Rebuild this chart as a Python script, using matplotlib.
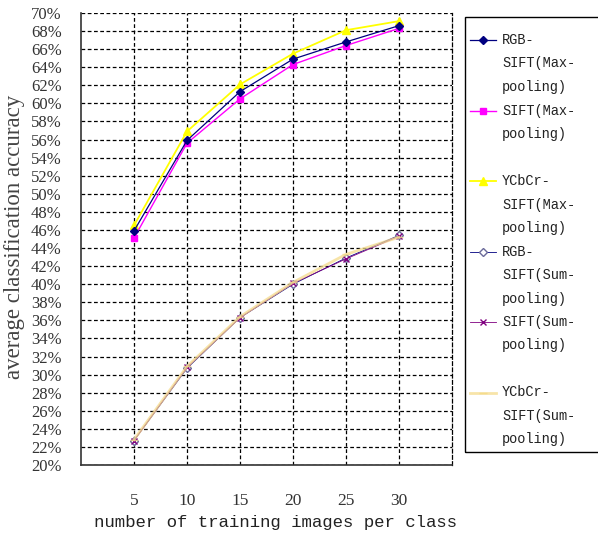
import matplotlib
matplotlib.use("Agg")
import matplotlib.pyplot as plt
from matplotlib.lines import Line2D
from matplotlib.patches import Rectangle

categories = ["5", "10", "15", "20", "25", "30"]
rgb_max = [45.9, 55.9, 61.3, 64.9, 66.8, 68.6]
sift_max = [45.1, 55.6, 60.5, 64.3, 66.4, 68.3]
ycbcr_max = [46.5, 56.9, 62.1, 65.5, 68.1, 69.1]
rgb_sum = [22.7, 30.7, 36.3, 40.0, 42.9, 45.4]
sift_sum = [22.7, 30.8, 36.3, 40.1, 42.8, 45.3]
ycbcr_sum = [22.8, 30.9, 36.4, 40.2, 43.3, 45.2]
yticks = list(range(20, 71, 2))
ytick_labels = [f"{v}%" for v in yticks]
labels = [
    "RGB-\nSIFT(Max-\npooling)",
    "SIFT(Max-\npooling)\n",
    "YCbCr-\nSIFT(Max-\npooling)",
    "RGB-\nSIFT(Sum-\npooling)",
    "SIFT(Sum-\npooling)\n",
    "YCbCr-\nSIFT(Sum-\npooling)",
]

W, H = 598, 535
fig = plt.figure(figsize=(W / 100, H / 100), dpi=100)
ax = fig.add_axes([81 / W, (H - 465) / H, (452 - 81) / W, (465 - 13) / H])

x = list(range(1, len(categories) + 1))

st_rgb_max = dict(data=rgb_max, color="#000080", marker="D", ms=4.5, mfc="#000080", mec="#000080", lw=0.9, alpha=1, z=6)
st_sift_max = dict(data=sift_max, color="#FF00FF", marker="s", ms=5, mfc="#FF00FF", mec="#FF00FF", lw=1.0, alpha=1, z=5)
st_ycbcr_max = dict(data=ycbcr_max, color="#FFFF00", marker="^", ms=6, mfc="#FFFF00", mec="#FFFF00", lw=1.3, alpha=1, z=4)
st_rgb_sum = dict(data=rgb_sum, color="#000080", marker="D", ms=4, mfc="white", mec="#6A6A9A", lw=0.6, alpha=1, z=3)
st_sift_sum = dict(data=sift_sum, color="#800080", marker="x", ms=5, mfc="#800080", mec="#800080", lw=0.6, alpha=1, z=3.5)
st_ycbcr_sum = dict(data=ycbcr_sum, color="#F5DC8C", marker="_", ms=6, mfc="#F5DC8C", mec="#F5DC8C", lw=2.0, alpha=0.75, z=3.8)

for s in [st_rgb_sum, st_sift_sum, st_ycbcr_sum, st_ycbcr_max, st_sift_max, st_rgb_max]:
    ax.plot(x, s["data"], color=s["color"], marker=s["marker"], ms=s["ms"],
            mfc=s["mfc"], mec=s["mec"], lw=s["lw"], alpha=s["alpha"], zorder=s["z"])

ax.set_xlim(0, 7)
ax.set_ylim(20, 70)
ax.set_xticks(x)
ax.set_xticklabels(categories, fontsize=12.5, family="Liberation Serif", color="#333333")
ax.set_yticks(yticks)
ax.set_yticklabels(ytick_labels, fontsize=12, family="Liberation Serif", color="#333333")
ax.tick_params(axis="both", length=0)
ax.tick_params(axis="x", pad=20)
ax.tick_params(axis="y", pad=14)
ax.grid(True, color="black", linestyle=(0, (3, 2)), linewidth=0.9)
ax.set_axisbelow(True)
ax.spines["top"].set_visible(False)
ax.spines["right"].set_linestyle((0, (3, 2)))
ax.spines["right"].set_linewidth(0.9)
for sp in ("left", "bottom"):
    ax.spines[sp].set_linewidth(1.2)
    ax.spines[sp].set_color("#333333")

ax.set_xlabel("number of training images per class", family="Liberation Mono",
              fontsize=12.5, color="#222222")
ax.xaxis.set_label_coords((276 - 81) / 371, -(522 - 465) / 452)
ax.xaxis.label.set_va("center")
ax.set_ylabel("average classification accuracy", family="Liberation Serif",
              fontsize=16.5, color="#444444")
ax.yaxis.set_label_coords((25 - 81) / 371, 0.505)

# Legend drawn manually
fig.patches.append(Rectangle((465 / W, (H - 452) / H), (620 - 465) / W, (452 - 17) / H,
                             transform=fig.transFigure, fill=False, edgecolor="black",
                             linewidth=1.0, clip_on=False))
leg_styles = [st_rgb_max, st_sift_max, st_ycbcr_max, st_rgb_sum, st_sift_sum, st_ycbcr_sum]
line_step = 23.5
yline = 40
for lab, s in zip(labels, leg_styles):
    lines = lab.split("\n")
    yf = (H - yline) / H
    fig.add_artist(Line2D([470 / W, 496 / W], [yf, yf], transform=fig.transFigure,
                          color=s["color"], lw=s["lw"], alpha=s["alpha"]))
    fig.add_artist(Line2D([483 / W], [yf], transform=fig.transFigure,
                          color=s["color"], marker=s["marker"], ms=s["ms"],
                          mfc=s["mfc"], mec=s["mec"], lw=0))
    for i, ln in enumerate(lines):
        if ln:
            fig.text(502 / W, (H - (yline + i * line_step)) / H, ln,
                     family="Liberation Mono", fontsize=9.8, color="#222222",
                     va="center", ha="left")
    yline += line_step * len(lines)

fig.savefig("out.png", dpi=100)
